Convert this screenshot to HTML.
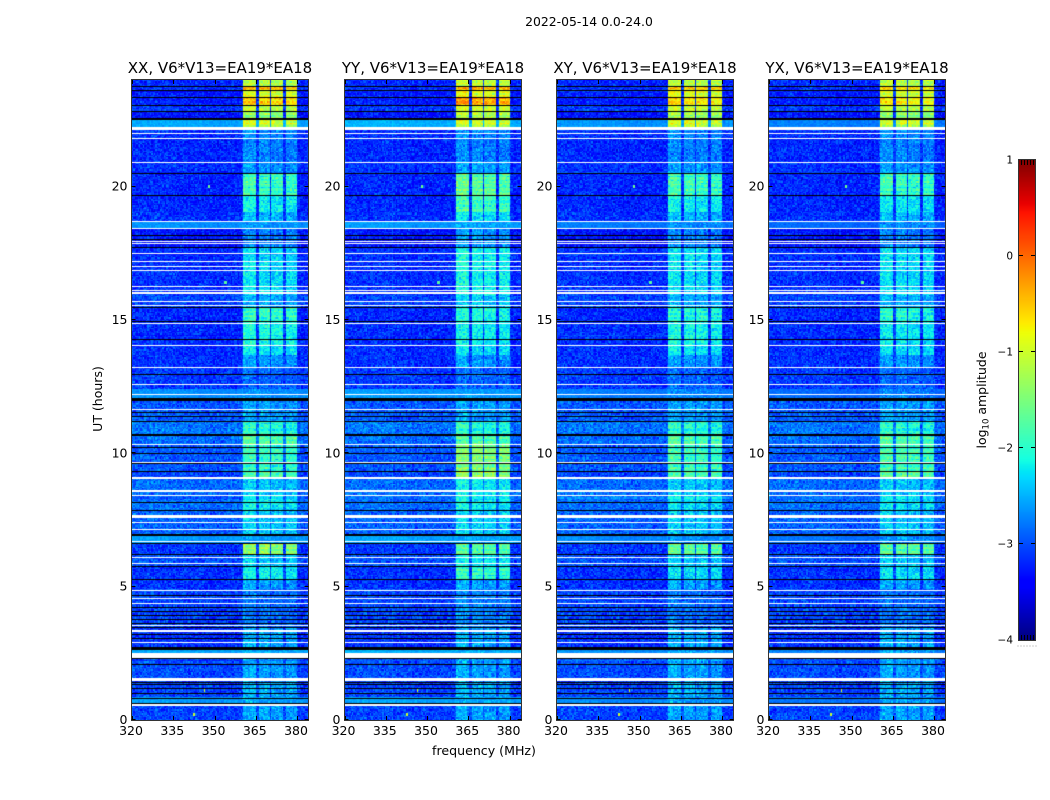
<!DOCTYPE html>
<html>
<head>
<meta charset="utf-8">
<title>2022-05-14 waterfall</title>
<style>
html,body{margin:0;padding:0;background:#fff;}
#stage{position:relative;width:1050px;height:800px;overflow:hidden;background:#fff;}
canvas{position:absolute;display:block;}
svg{position:absolute;left:0;top:0;}
text{font-family:"DejaVu Sans","Liberation Sans",sans-serif;fill:#000;}
</style>
</head>
<body>
<div id="stage">
<svg id="overlay" width="1050" height="800"></svg>
</div>
<script>
/* ---------- chart values ---------- */
const panelTitles = ['XX, V6*V13=EA19*EA18','YY, V6*V13=EA19*EA18','XY, V6*V13=EA19*EA18','YX, V6*V13=EA19*EA18'];
const panelNames = ['xx','yy','xy','yx'];
const freqTicks = [320,335,350,365,380];
const utTicks = [0,5,10,15,20];
const colorTicks = [-4,-3,-2,-1,0,1];

/* band start times (UT hours, descending) */
const bandUT = [24.00,23.74,23.59,23.33,23.06,22.80,22.54,22.13,21.79,20.93,20.48,20.03,19.65,19.05,18.68,18.43,18.38,17.70,15.94,15.45,14.96,14.06,13.69,13.24,12.41,12.00,11.21,10.73,10.31,9.30,9.08,8.44,7.88,6.90,6.60,6.19,5.74,5.25,4.88,3.45,2.63,2.33,1.46,0.83,0.64,0.53];
/* background log10 amplitude per band */
const bandBase = [-3.25,-3.2,-3.3,-3.3,-3.15,-3.35,-2.58,-3.2,-3.25,-3.2,-3.25,-3.25,-3.25,-3.2,-2.7,-3.4,-3.35,-3.2,-3.1,-3.25,-3.22,-3.22,-3.2,-3.15,-2.7,-3.0,-2.85,-2.9,-3.0,-3.1,-2.9,-2.9,-2.95,-2.65,-3.15,-3.05,-3.2,-3.2,-3.1,-3.2,-2.6,-3.05,-3.1,-2.65,-3.1,-3.1];
/* level of the 360-380 MHz interference blocks per band, per polarisation */
const rfiXX = [-1.2,-0.55,-0.9,-0.6,-1.15,-1.5,-1.05,-2.7,-2.75,-2.65,-1.9,-1.95,-2.2,-2.5,-2.7,-0.4,-2.75,-2.3,-2.55,-1.95,-2.1,-2.25,-2.65,-2.9,-2.75,-2.6,-2.05,-1.8,-1.95,-1.75,-2.4,-2.2,-2.4,-2.7,-1.4,-2.4,-2.2,-2.6,-2.85,-2.55,-2.6,-2.6,-2.55,-2.6,-2.6,-2.6];
const rfiYY = [-1.1,-0.5,-0.9,-0.35,-1.05,-1.25,-1.05,-2.7,-2.75,-2.6,-1.75,-1.75,-1.9,-2.3,-2.6,-0.5,-2.65,-2.15,-2.4,-2.1,-2.2,-2.3,-2.65,-2.9,-2.75,-2.6,-2.05,-1.85,-1.5,-1.35,-2.2,-2.2,-2.35,-2.7,-1.75,-2.2,-2.0,-2.6,-2.75,-2.55,-2.6,-2.6,-2.55,-2.6,-2.6,-2.6];
const rfiXY = [-1.15,-0.65,-0.95,-0.7,-1.1,-1.4,-1.0,-2.7,-2.75,-2.65,-1.9,-1.95,-2.2,-2.5,-2.7,-0.9,-2.75,-2.3,-2.55,-2.05,-2.15,-2.25,-2.65,-2.9,-2.75,-2.6,-2.05,-1.85,-1.9,-1.75,-2.4,-2.3,-2.4,-2.7,-1.7,-2.4,-2.3,-2.6,-2.85,-2.55,-2.6,-2.6,-2.55,-2.6,-2.6,-2.6];
const rfiYX = [-1.2,-0.75,-1.0,-0.8,-1.2,-1.5,-1.05,-2.7,-2.75,-2.65,-1.9,-2.0,-2.25,-2.5,-2.7,-1.0,-2.75,-2.3,-2.55,-2.05,-2.25,-2.3,-2.65,-2.9,-2.75,-2.6,-2.05,-1.85,-1.85,-1.65,-2.4,-2.3,-2.4,-2.7,-1.7,-2.4,-2.3,-2.6,-2.85,-2.55,-2.6,-2.6,-2.55,-2.6,-2.6,-2.6];
/* strength of the bright wide-band bands per polarisation */
const polBandLift = [0,0.05,-0.1,-0.2];
/* interference block edges (MHz) and gain */
const blockStart = [360.5,366,370.7,375.8];
const blockEnd = [365,370,375,380];
const blockGain = [0.05,0,-0.03,-0.05];
/* background shape across the band, per 8 MHz from 320 */
const bgProfile = [0.05,0.05,0.03,0,0,0,-0.02,0,-0.08];
/* missing data (white) and zeroed data (black): UT from / to */
const whiteFrom = [22.24,22.00,21.82,20.93,18.71,18.45,17.96,17.87,17.53,17.23,17.03,16.89,16.28,16.14,16.05,15.71,15.56,14.89,14.06,13.24,12.60,12.23,11.66,10.35,9.69,9.11,8.63,8.44,7.69,7.43,7.16,6.71,6.11,5.87,4.88,4.58,4.39,3.56,3.36,2.93,2.51,1.58,0.60];
const whiteTo = [22.13,21.98,21.79,20.89,18.68,18.41,17.93,17.83,17.49,17.19,16.98,16.85,16.24,16.10,15.96,15.68,15.53,14.85,14.03,13.20,12.56,12.19,11.63,10.31,9.66,9.04,8.55,8.40,7.59,7.39,7.13,6.68,6.08,5.83,4.84,4.54,4.35,3.53,3.30,2.89,2.33,1.46,0.53];
const blackFrom = [23.76,23.61,23.35,23.08,22.82,22.58,20.50,19.67,18.20,18.03,17.72,15.49,14.98,14.27,12.97,12.08,11.55,11.40,11.23,10.73,10.22,10.01,9.65,9.32,8.19,7.89,6.98,6.62,6.21,5.76,5.27,4.67,4.25,4.07,3.92,3.77,3.62,3.47,3.24,3.09,2.74,2.32,2.10,1.44,1.35,1.20,1.03,0.84,0.65];
const blackTo = [23.72,23.57,23.31,23.04,22.78,22.52,20.46,19.63,18.17,17.99,17.68,15.45,14.94,14.23,12.94,11.98,11.51,11.36,11.18,10.65,10.18,9.98,9.62,9.28,8.16,7.86,6.90,6.58,6.17,5.72,5.23,4.63,4.22,4.03,3.88,3.73,3.58,3.43,3.21,3.06,2.63,2.29,2.07,1.41,1.31,1.16,1.00,0.81,0.62];
/* isolated bright channels */
const spikeUT = [1.09,0.22,20.0,16.4];
const spikeMHz = [346.4,342.5,348,354];
const spikeLevel = [-1.0,-1.0,-1.6,-1.7];
/* hand-typed grain tables that give the cells their speckle (texture, not measurements) */
const grainA = [0.12,-0.21,0.05,0.27,-0.09,-0.28,0.18,0.02,-0.15,0.24,-0.04,0.09,-0.25,0.16,-0.12,0.3,-0.19,0.07,-0.02,0.21,-0.27,0.11,0.03,-0.17,0.26,-0.08,0.14,-0.23,0.0,0.19,-0.13,0.08,0.29,-0.2,-0.06,0.15,-0.26,0.1,0.22,-0.11,-0.01,0.17,-0.24,0.06,0.25,-0.16,0.04,-0.29,0.13,0.2,-0.07,-0.18,0.28,-0.03,0.09,-0.22,0.16,0.01,-0.14,0.23,-0.1];
const grainB = [-0.14,0.08,0.2,-0.05,-0.22,0.13,0.01,0.25,-0.17,0.06,-0.09,0.18,-0.26,0.11,0.03,-0.12,0.22,-0.02,-0.19,0.15,0.07,-0.24,0.27,-0.06,0.1,-0.15,0.19,-0.01,-0.21,0.12,0.04,-0.28,0.23,-0.08,0.16,-0.11,0.02,0.21,-0.18,0.09,-0.03,0.26,-0.23,0.05,0.14,-0.13,-0.07,0.17,-0.2,0.24,-0.04,0.0,0.11];
const rowStripe = [0.1,-0.08,0.16,0.02,-0.14,0.05,0.2,-0.1,-0.03,0.12,-0.18,0.07,0.0,0.15,-0.06,-0.16,0.09,0.03,-0.12];
/* jet colormap stops */
const jetRx = [0,0.35,0.66,0.89,1];
const jetRy = [0,0,1,1,0.5];
const jetGx = [0,0.125,0.375,0.64,0.91,1];
const jetGy = [0,0,1,1,0,0];
const jetBx = [0,0.11,0.34,0.65,1];
const jetBy = [0.5,1,1,0,0];

/* ---------- layout ---------- */
const SVGNS = 'http://www.w3.org/2000/svg';
const stage = document.getElementById('stage');
const overlay = document.getElementById('overlay');
const plotTop = 80, plotBottom = 720, plotWidth = 176;
const panelLeft = [132,344.5,557,769];
const colorTop = 160, colorBottom = 640, colorLeft = 1019, colorWidth = 16;
const channels = 128, rows = 480;
const freqMin = 320, freqPerPx = 64 / plotWidth;
const rfiByPol = [rfiXX,rfiYY,rfiXY,rfiYX];

function xScale(p, mhz){ return panelLeft[p] + (mhz - freqMin) / freqPerPx; }
function yScale(ut){ return plotBottom - ut * (plotBottom - plotTop) / 24; }
function colorScale(v){ return colorBottom - (v + 4) * (colorBottom - colorTop) / 5; }
function piecewise(xs, ys, t){
  for (let i = 1; i < xs.length; i++) {
    if (t <= xs[i]) return ys[i-1] + (ys[i] - ys[i-1]) * (t - xs[i-1]) / (xs[i] - xs[i-1]);
  }
  return ys[ys.length - 1];
}
function jet(v){
  const t = Math.max(0, Math.min(1, (v + 4) / 5));
  return [piecewise(jetRx,jetRy,t)*255, piecewise(jetGx,jetGy,t)*255, piecewise(jetBx,jetBy,t)*255];
}
function bandIndex(ut){
  let k = 0;
  for (let i = 0; i < bandUT.length; i++) { if (ut <= bandUT[i]) k = i; }
  return k;
}
function cellValue(p, r, c){
  const ut = 24 - (r + 0.5) * 24 / rows;
  const mhz = freqMin + (c + 0.5) * 0.5;
  const k = bandIndex(ut);
  let base = bandBase[k];
  const smooth = base > -2.8;
  if (smooth) base += polBandLift[p];
  const n = grainA[(c*37 + r*r*11 + c*r*3 + p*13) % grainA.length] + grainB[(c*c*7 + r*19 + c*r + p*5) % grainB.length];
  let v = base + bgProfile[Math.min(8, Math.floor((mhz - freqMin) / 8))] + n * (smooth ? 0.3 : 0.8);
  if (mhz >= 360 && mhz <= 380.5) {
    const rfi = rfiByPol[p][k];
    let inBlock = -1;
    for (let b = 0; b < blockStart.length; b++) { if (mhz >= blockStart[b] && mhz <= blockEnd[b]) inBlock = b; }
    if (inBlock >= 0) {
      const stripe = rfi > -2.1 ? rowStripe[r % rowStripe.length] : 0;
      v = Math.max(v, rfi + blockGain[inBlock] + stripe + n * 0.8);
    } else {
      v += 0.1;
    }
  }
  for (let s = 0; s < spikeUT.length; s++) {
    if (Math.abs(ut - spikeUT[s]) < 0.05 && Math.abs(mhz - spikeMHz[s]) < 0.26) v = spikeLevel[s];
  }
  return v;
}

/* ---------- svg helpers ---------- */
function addText(str, x, y, size, anchor){
  const el = document.createElementNS(SVGNS, 'text');
  el.setAttribute('x', x);
  el.setAttribute('y', y);
  el.setAttribute('font-size', size);
  el.setAttribute('text-anchor', anchor);
  el.textContent = str;
  overlay.appendChild(el);
  return el;
}
function addLine(x1, y1, x2, y2, color){
  const el = document.createElementNS(SVGNS, 'line');
  el.setAttribute('x1', x1);
  el.setAttribute('y1', y1);
  el.setAttribute('x2', x2);
  el.setAttribute('y2', y2);
  el.setAttribute('stroke', color);
  el.setAttribute('stroke-width', 1);
  overlay.appendChild(el);
  return el;
}

/* ---------- waterfall panels ---------- */
function drawFlags(ctx, from, to, color){
  ctx.fillStyle = color;
  for (let i = 0; i < from.length; i++) {
    const y0 = Math.round(yScale(from[i]) - plotTop);
    const h = Math.max(1, Math.round(yScale(to[i]) - yScale(from[i])));
    ctx.fillRect(0, y0, plotWidth, h);
  }
}
panelTitles.forEach(function(title, p){
  const off = document.createElement('canvas');
  off.width = channels;
  off.height = rows;
  const offCtx = off.getContext('2d');
  const img = offCtx.createImageData(channels, rows);
  for (let r = 0; r < rows; r++) {
    for (let c = 0; c < channels; c++) {
      const col = jet(cellValue(p, r, c));
      const i = (r * channels + c) * 4;
      img.data[i] = col[0];
      img.data[i+1] = col[1];
      img.data[i+2] = col[2];
      img.data[i+3] = 255;
    }
  }
  offCtx.putImageData(img, 0, 0);

  const cv = document.createElement('canvas');
  cv.width = plotWidth;
  cv.height = plotBottom - plotTop;
  cv.style.left = Math.round(panelLeft[p]) + 'px';
  cv.style.top = plotTop + 'px';
  
  
  const ctx = cv.getContext('2d');
  ctx.imageSmoothingEnabled = false;
  ctx.drawImage(off, 0, 0, cv.width, cv.height);
  drawFlags(ctx, blackFrom, blackTo, '#000');
  drawFlags(ctx, whiteFrom, whiteTo, '#fff');
  stage.insertBefore(cv, overlay);

  const left = Math.round(panelLeft[p]) - 0.5;
  const right = left + plotWidth + 1;

  const frame = document.createElementNS(SVGNS, 'rect');
  frame.setAttribute('x', left);
  frame.setAttribute('y', plotTop - 0.5);
  frame.setAttribute('width', plotWidth + 1);
  frame.setAttribute('height', plotBottom - plotTop + 1);
  frame.setAttribute('fill', 'none');
  frame.setAttribute('stroke', '#333');
  frame.setAttribute('stroke-width', 1);
  
  
  overlay.appendChild(frame);

  const titleEl = addText(title, (left + right) / 2, 73, 15, 'middle');
  
  

  freqTicks.forEach(function(f){
    const x = Math.round(xScale(p, f)) + 0.5;
    const tickBottom = addLine(x, plotBottom, x, plotBottom - 4, '#000');
    
    
    const tickTop = addLine(x, plotTop, x, plotTop + 4, '#000');
    
    
    const label = addText(String(f), xScale(p, f) - 1, 735, 12.5, 'middle');
    
    
  });
  utTicks.forEach(function(u){
    const y = Math.round(yScale(u)) - 0.5;
    const tickLeft = addLine(left, y, left + 4, y, '#000');
    
    
    const tickRight = addLine(right, y, right - 4, y, '#000');
    
    
    const label = addText(String(u), left - 4, yScale(u) + 4, 12.5, 'end');
    
    
  });
});

/* ---------- figure labels ---------- */
const figTitle = addText('2022-05-14 0.0-24.0', 589, 26, 12.4, 'middle');



const xTitle = addText('frequency (MHz)', 484, 755, 12.6, 'middle');



const yTitle = addText('UT (hours)', 0, 0, 12.5, 'middle');
yTitle.setAttribute('transform', 'translate(102,399) rotate(-90)');



/* ---------- colorbar ---------- */
const cb = document.createElement('canvas');
cb.width = colorWidth;
cb.height = colorBottom - colorTop;
cb.style.left = colorLeft + 'px';
cb.style.top = colorTop + 'px';


const cbCtx = cb.getContext('2d');
for (let y = 0; y < cb.height; y++) {
  const col = jet(1 - (y + 0.5) * 5 / cb.height);
  cbCtx.fillStyle = 'rgb(' + Math.round(col[0]) + ',' + Math.round(col[1]) + ',' + Math.round(col[2]) + ')';
  cbCtx.fillRect(0, y, colorWidth, 1);
}
stage.insertBefore(cb, overlay);

const cbFrame = document.createElementNS(SVGNS, 'rect');
cbFrame.setAttribute('x', colorLeft - 0.5);
cbFrame.setAttribute('y', colorTop - 0.5);
cbFrame.setAttribute('width', colorWidth + 1);
cbFrame.setAttribute('height', colorBottom - colorTop + 1);
cbFrame.setAttribute('fill', 'none');
cbFrame.setAttribute('stroke', '#333');
cbFrame.setAttribute('stroke-width', 1);


overlay.appendChild(cbFrame);

colorTicks.forEach(function(v){
  const y = Math.round(colorScale(v)) - 0.5;
  const label = addText(String(v).replace('-', '\u2212'), 1013, colorScale(v) + 3.5, 10.5, 'end');
  
  
  if (v > -4 && v < 1) {
    const tl = addLine(colorLeft, y, colorLeft + 4, y, '#000');
    
    
    const tr = addLine(colorLeft + colorWidth - 4, y, colorLeft + colorWidth, y, '#000');
    
    
  }
});
for (let x = colorLeft + 2.5; x < colorLeft + colorWidth; x += 3) {
  const mt = addLine(x, colorTop, x, colorTop + 5, '#000');
  
  
  const mb = addLine(x, colorBottom, x, colorBottom - 5, '#000');
  
  
}
for (let x = colorLeft - 1.5; x < colorLeft + colorWidth + 1; x += 3) {
  const dot = addLine(x, 646, x + 1, 646, '#999');
  
  
}

const cbTitle = addText('', 0, 0, 12.5, 'middle');
cbTitle.setAttribute('transform', 'translate(986,400) rotate(-90)');


const t1 = document.createElementNS(SVGNS, 'tspan');
t1.textContent = 'log';
cbTitle.appendChild(t1);
const t2 = document.createElementNS(SVGNS, 'tspan');
t2.setAttribute('dy', '2.5');
t2.setAttribute('font-size', '8.5');
t2.textContent = '10';
cbTitle.appendChild(t2);
const t3 = document.createElementNS(SVGNS, 'tspan');
t3.setAttribute('dy', '-2.5');
t3.textContent = ' amplitude';
cbTitle.appendChild(t3);
</script>
</body>
</html>
